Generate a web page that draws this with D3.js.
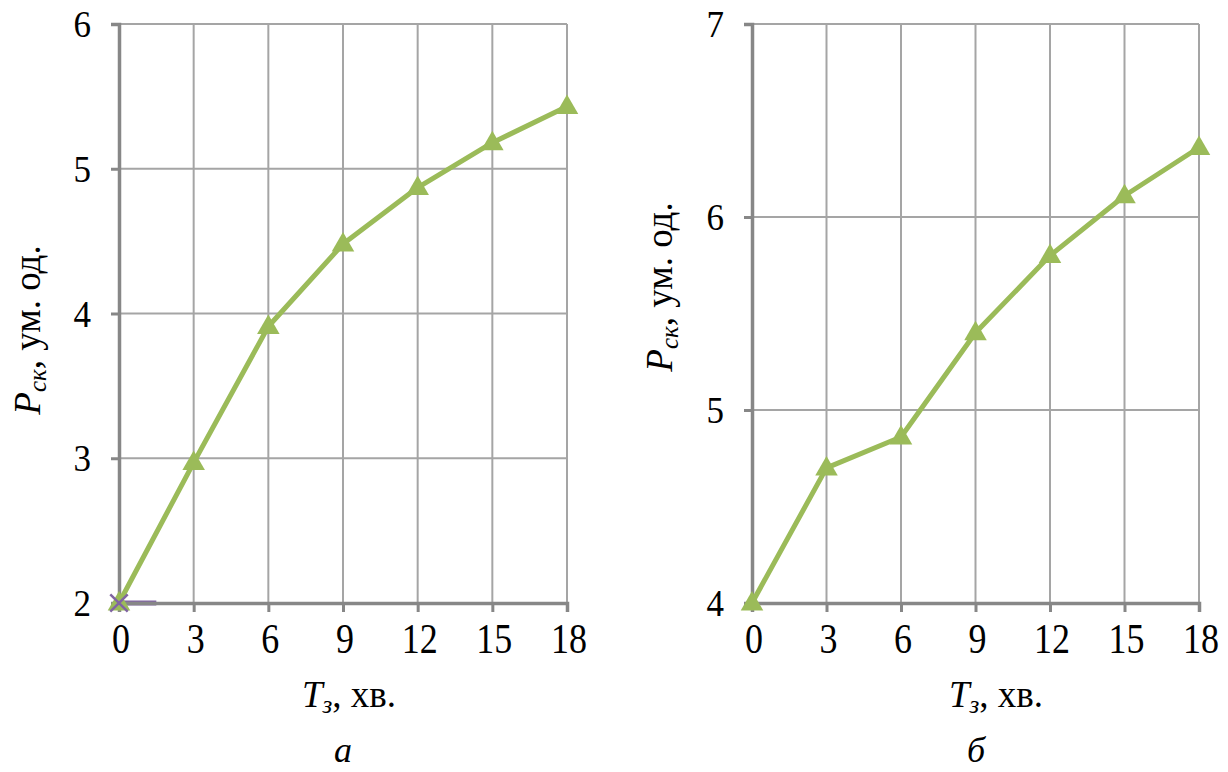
<!DOCTYPE html>
<html>
<head>
<meta charset="utf-8">
<script src="https://cdn.jsdelivr.net/npm/d3@7"></script>
<style>
  html, body { margin: 0; padding: 0; background: #fff; }
  svg { display: block; }
  text { font-family: "Liberation Serif", "Times New Roman", serif; fill: #000; }
</style>
</head>
<body>
<svg id="chart" width="1228" height="772"></svg>
<script>
// Time of exposure, min (shared x categories)
const timeTicks = [0, 3, 6, 9, 12, 15, 18];

// Panel "а": Pск vs Tз
const valuesA = [2.0, 2.97, 3.91, 4.48, 4.87, 5.18, 5.43];
const yTicksA = [2, 3, 4, 5, 6];
// second (auxiliary) series in panel "а"
const auxTimeA = [0, 1.5];
const auxValuesA = [2.0, 2.0];

// Panel "б": Pск vs Tз
const valuesB = [4.0, 4.70, 4.86, 5.40, 5.80, 6.11, 6.36];
const yTicksB = [4, 5, 6, 7];

const panelLabels = ["а", "б"];

const svg = d3.select("#chart");
svg.append("rect").attr("width", 1228).attr("height", 772).attr("fill", "#fff");

const green = "#9bbb59";
const purple = "#8064a2";
const gridColor = "#a5a5a5";
const axisColor = "#878787";

function drawPanel(opt) {
  const x = d3.scaleLinear().domain([0, 18]).range([opt.left, opt.right]);
  const y = d3.scaleLinear().domain(opt.yDomain).range([opt.bottom, opt.top]);
  const g = svg.append("g");

  // grid
  g.append("g").selectAll("line").data(timeTicks.slice(1)).join("line")
    .attr("x1", d => x(d)).attr("x2", d => x(d))
    .attr("y1", opt.top).attr("y2", opt.bottom)
    .attr("stroke", gridColor).attr("stroke-width", 2);
  g.append("g").selectAll("line").data(opt.yTicks.slice(1)).join("line")
    .attr("x1", opt.left).attr("x2", opt.right)
    .attr("y1", d => y(d)).attr("y2", d => y(d))
    .attr("stroke", gridColor).attr("stroke-width", 2);

  // auxiliary series (under the axis)
  if (opt.aux) {
    const auxLine = d3.line().x(d => x(d[0])).y(d => y(d[1]));
    g.append("path")
      .datum(opt.aux.t.map((t, i) => [t, opt.aux.v[i]]))
      .attr("d", auxLine)
      .attr("fill", "none").attr("stroke", purple).attr("stroke-width", 5);
  }

  // axes
  const yAxis = d3.axisLeft(y).tickValues(opt.yTicks).tickSize(8).tickFormat("");
  const xAxis = d3.axisBottom(x).tickValues(timeTicks).tickSize(9).tickFormat("");
  const ya = g.append("g").attr("transform", `translate(${opt.left},0)`).call(yAxis);
  const xa = g.append("g").attr("transform", `translate(0,${opt.bottom})`).call(xAxis);
  [ya, xa].forEach(a => {
    a.select(".domain").attr("stroke", axisColor).attr("stroke-width", 3.5);
    a.selectAll(".tick line").attr("stroke", axisColor).attr("stroke-width", 3);
  });

  // tick labels
  g.append("g").selectAll("text").data(opt.yTicks).join("text")
    .attr("transform", d => `translate(${opt.left - 28},${y(d) + 13}) scale(1,1.1)`)
    .attr("text-anchor", "end").attr("font-size", 35)
    .text(d => d);
  g.append("g").selectAll("text").data(timeTicks).join("text")
    .attr("transform", d => `translate(${x(d) + 2},${opt.bottom + 50}) scale(1,1.15)`)
    .attr("text-anchor", "middle").attr("font-size", 36)
    .text(d => d);

  // series line + triangle markers
  const pts = timeTicks.map((t, i) => [t, opt.values[i]]);
  g.append("path").datum(pts)
    .attr("d", d3.line().x(d => x(d[0])).y(d => y(d[1])))
    .attr("fill", "none").attr("stroke", green).attr("stroke-width", 5)
    .attr("stroke-linejoin", "round");
  const tri = d3.symbol().type(d3.symbolTriangle).size(220);
  g.append("g").selectAll("path").data(pts).join("path")
    .attr("transform", d => `translate(${x(d[0])},${y(d[1]) + 1})`)
    .attr("d", tri).attr("fill", green);

  if (opt.aux) {
    const cross = d3.symbol().type(d3.symbolX).size(200);
    g.append("path")
      .attr("transform", `translate(${x(opt.aux.t[0])},${y(opt.aux.v[0])})`)
      .attr("d", cross).attr("fill", "none")
      .attr("stroke", purple).attr("stroke-width", 2.5);
  }

  // x-axis title: Tз, хв.
  const xt = g.append("text")
    .attr("x", opt.xTitleX).attr("y", 707)
    .attr("text-anchor", "middle").attr("font-size", 37);
  xt.append("tspan").attr("font-style", "italic").text("T");
  xt.append("tspan").attr("font-style", "italic").attr("font-size", 25).attr("dy", 6).text("з");
  xt.append("tspan").attr("dy", -6).text(", хв.");

  // y-axis title: Pск, ум. од.
  const yt = g.append("text")
    .attr("transform", `translate(${opt.yTitleX},${opt.yTitleY}) rotate(-90)`)
    .attr("text-anchor", "middle").attr("font-size", 37);
  yt.append("tspan").attr("font-style", "italic").text("P");
  yt.append("tspan").attr("font-style", "italic").attr("font-size", 25).attr("dy", 6).text("ск");
  yt.append("tspan").attr("dy", -6).text(", ум. од.");

  // panel letter
  g.append("text")
    .attr("x", opt.labelX).attr("y", 762)
    .attr("text-anchor", "middle").attr("font-size", 36).attr("font-style", "italic")
    .text(opt.label);
}

drawPanel({
  left: 119, right: 567, top: 24, bottom: 603,
  yDomain: [2, 6], yTicks: yTicksA, values: valuesA,
  aux: { t: auxTimeA, v: auxValuesA },
  xTitleX: 349, yTitleX: 40, yTitleY: 330, labelX: 343, label: panelLabels[0]
});
drawPanel({
  left: 752, right: 1199, top: 24, bottom: 603,
  yDomain: [4, 7], yTicks: yTicksB, values: valuesB,
  xTitleX: 996, yTitleX: 672, yTitleY: 287, labelX: 976, label: panelLabels[1]
});
</script>
</body>
</html>
